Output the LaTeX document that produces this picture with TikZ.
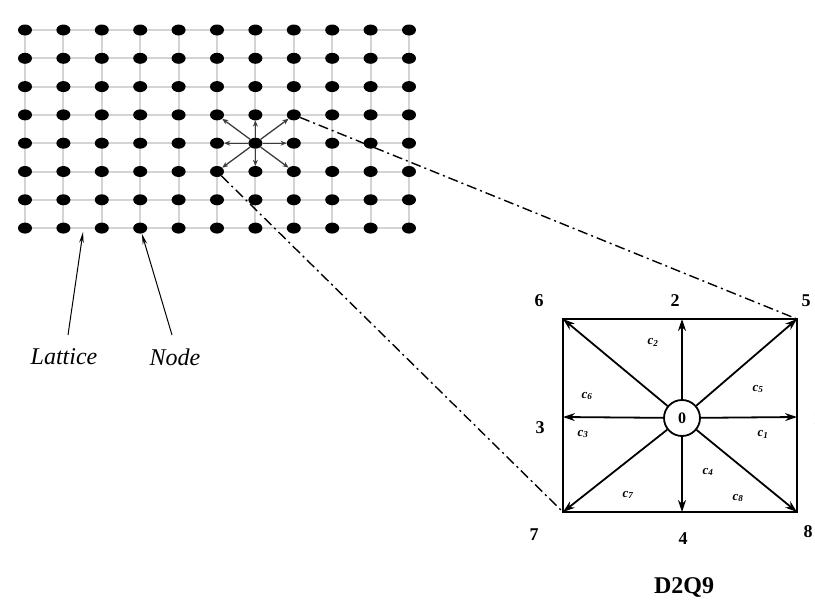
\documentclass[tikz,border=0pt]{standalone}
\usepackage{fontspec}
\setmainfont{Liberation Serif}
\usetikzlibrary{arrows.meta,shapes.geometric,backgrounds}
\definecolor{gridgray}{RGB}{212,212,212}
\definecolor{arrowgray}{RGB}{60,60,60}
\tikzset{
  latdot/.style={ellipse,fill=black,inner sep=0pt,minimum width=14pt,minimum height=11pt},
  gridline/.style={draw=gridgray,line width=2pt},
  nbarrow/.style={-{Stealth[length=6pt,width=5pt]},draw=arrowgray,line width=1.3pt},
  dirarrow/.style={-{Stealth[length=12pt,width=8pt]},line width=1.8pt},
  zoomline/.style={line width=1.4pt,dash pattern=on 10pt off 4pt on 2pt off 4pt},
  numlabel/.style={font=\bfseries\fontsize{18}{18}\selectfont},
  clabel/.style={font=\itshape\bfseries\fontsize{13}{13}\selectfont},
  namelabel/.style={font=\itshape\fontsize{24}{24}\selectfont},
  pointer/.style={-{Stealth[length=11pt,width=4.5pt]},line width=1pt}
}
\begin{document}
\begin{tikzpicture}[x=1pt,y=-1pt]
  \useasboundingbox (0,0) rectangle (815,608);
  % lattice
  \foreach \i in {0,...,10}
    \foreach \j in {0,...,7}
      \node[latdot] (n\i-\j) at ({25+38.4*\i},{30+28.3*\j}) {};
  \begin{scope}[on background layer]
    \foreach \j in {0,...,7}
      \draw[gridline] (n0-\j.center) -- (n10-\j.center);
    \foreach \i in {0,...,10}
      \draw[gridline] (n\i-0.center) -- (n\i-7.center);
  \end{scope}
  \foreach \a/\b in {5/3,6/3,7/3,5/4,7/4,5/5,6/5,7/5}
    \draw[nbarrow] (n6-4) -- (n\a-\b);

  % labels under the lattice
  \node[namelabel] (lattice) at (64,357) {Lattice};
  \node[namelabel] (node) at (175,357) {Node};
  \coordinate (lattail) at (68,335);
  \coordinate (lathead) at (83,232);
  \coordinate (nodetail) at (172,335);
  \draw[pointer] (lattail) -- (lathead);
  \draw[pointer] (nodetail) -- (n3-7);

  % D2Q9 cell
  \coordinate (k6) at (563,319);
  \coordinate (k2) at (682,319);
  \coordinate (k5) at (797,319);
  \coordinate (k3) at (563,417);
  \coordinate (k1) at (797,417);
  \coordinate (k7) at (563,512);
  \coordinate (k4) at (682,512);
  \coordinate (k8) at (797,512);
  \draw[line width=1.8pt] (k6) rectangle (k8);
  \node[circle,draw,line width=1.8pt,fill=white,minimum size=36pt,inner sep=0pt,
        font=\bfseries\fontsize{16}{16}\selectfont] (c0) at (682,418) {0};
  \foreach \k in {1,...,8}
    \draw[dirarrow] (c0) -- (k\k);

  \draw[zoomline] (n7-3) -- (k5);
  \draw[zoomline] (n5-5) -- (k7);

  \node[numlabel] (l6) at (539,301) {6};
  \node[numlabel] (l2) at (675,301) {2};
  \node[numlabel] (l5) at (806,301) {5};
  \node[numlabel] (l3) at (540,428) {3};
  \node[numlabel] (l1) at (818,419) {1};
  \node[numlabel] (l7) at (534,535) {7};
  \node[numlabel] (l4) at (683,539) {4};
  \node[numlabel] (l8) at (808,532) {8};

  \node[clabel] (v2) at (653,342) {c\textsubscript{2}};
  \node[clabel] (v6) at (587,396) {c\textsubscript{6}};
  \node[clabel] (v5) at (758,389) {c\textsubscript{5}};
  \node[clabel] (v3) at (583,434) {c\textsubscript{3}};
  \node[clabel] (v1) at (763,434) {c\textsubscript{1}};
  \node[clabel] (v4) at (708,472) {c\textsubscript{4}};
  \node[clabel] (v7) at (628,495) {c\textsubscript{7}};
  \node[clabel] (v8) at (738,498) {c\textsubscript{8}};

  \node[font=\bfseries\fontsize{24}{24}\selectfont] (title) at (684,587) {D2Q9};
\end{tikzpicture}
\end{document}
